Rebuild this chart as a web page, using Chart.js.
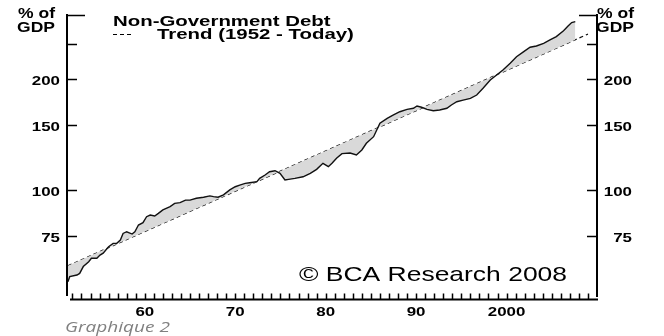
<!DOCTYPE html>
<html>
<head>
<meta charset="utf-8">
<script src="https://cdn.jsdelivr.net/npm/chart.js@4.4.1/dist/chart.umd.min.js"></script>
<style>
  html, body { margin: 0; padding: 0; background: #ffffff; }
  #wrap { width: 664px; height: 336px; position: relative; }
</style>
</head>
<body>
<div id="wrap"><canvas id="c" width="664" height="336"></canvas></div>
<script>
// ---- data ----
const debtYears = [1951.5,1951.7,1952.5,1952.8,1953.2,1953.8,1954.1,1954.7,1955.05,1955.4,1956.0,1956.5,1956.9,1957.3,1957.6,1958.0,1958.6,1958.9,1959.3,1959.8,1960.2,1960.6,1961.1,1961.5,1962.0,1962.8,1963.3,1963.9,1964.5,1965.0,1965.7,1966.5,1967.2,1967.6,1968.1,1968.7,1969.4,1970.0,1970.5,1971.1,1971.6,1972.4,1972.7,1973.3,1973.8,1974.4,1974.95,1975.5,1975.9,1976.6,1977.5,1978.3,1979.0,1979.7,1980.3,1980.7,1981.2,1981.8,1982.7,1983.4,1984.0,1984.5,1985.3,1986.0,1986.8,1987.5,1988.2,1989.0,1989.7,1990.1,1990.6,1991.2,1991.9,1992.6,1993.4,1993.9,1994.5,1995.2,1996.0,1996.7,1997.4,1998.2,1998.9,1999.6,2000.4,2001.1,2001.9,2002.6,2003.3,2004.1,2004.8,2005.5,2006.3,2006.8,2007.2,2007.6];
const debtValues = [56.1,57.9,58.5,59.1,61.7,63.6,65.0,65.0,66.3,67.1,69.9,71.4,71.4,72.9,76.0,76.8,75.7,76.8,80.1,81.3,84.4,85.3,84.8,86.2,88.1,89.9,91.8,92.2,93.7,93.7,94.8,95.4,96.2,95.8,95.4,96.8,99.9,101.9,103.0,104.1,104.5,105.2,107.4,109.7,112.0,112.7,110.9,106.3,106.7,107.4,108.5,110.9,113.7,118.1,115.6,118.1,121.9,125.5,126.0,124.4,128.4,133.9,139.6,151.9,156.7,160.0,163.3,165.8,166.9,169.3,168.0,165.8,164.4,165.1,166.9,170.4,173.9,175.7,177.6,181.4,189.2,199.3,205.8,212.3,221.4,230.8,238.3,244.9,246.9,251.1,256.4,261.8,271.7,279.8,286.0,287.7];
const trendYears = [1951.5, 2009.0];
const trendValues = [62, 266];
const yTickValues = [75, 100, 150, 200, 250, 300];
const yTickLabels = ['75', '100', '150', '200', '', ''];
const xLabelYears = [1960, 1970, 1980, 1990, 2000];
const xLabelTexts = ['60', '70', '80', '90', '2000'];
const xMinorFirst = 1952, xMinorLast = 2009;
const seriesLabel = 'Non-Government Debt';
const trendLabel = 'Trend (1952 - Today)';
const unitLines = ['% of', 'GDP'];
const copyrightText = '\u00A9 BCA Research 2008';
const captionText = 'Graphique 2';

const debtPoints = debtYears.map((x, i) => ({x: x, y: debtValues[i]}));
const trendPoints = trendYears.map((x, i) => ({x: x, y: trendValues[i]}));

function stretchText(ctx, s, x, y, font, align, sx, color) {
  ctx.save();
  ctx.font = font;
  ctx.fillStyle = color || '#000';
  ctx.textAlign = align;
  ctx.textBaseline = 'alphabetic';
  ctx.translate(x, y);
  ctx.scale(sx, 1);
  ctx.fillText(s, 0, 0);
  ctx.restore();
}

const decor = {
  id: 'decor',
  afterDatasetsDraw(chart) {
    const ctx = chart.ctx;
    const xs = chart.scales.x, ys = chart.scales.y;
    const a = chart.chartArea;
    const L = a.left, R = a.right, T = a.top, B = a.bottom;
    const tickFont = 'bold 13px "Liberation Sans", Arial, sans-serif';
    const SX = 1.3;
    const axisY = B - 0.5;
    ctx.save();
    // caption first (grey, behind everything else)
    stretchText(ctx, captionText, 65, 332, 'italic 14px "Open Sans", sans-serif', 'left', 1.36, '#808080');
    ctx.strokeStyle = '#000';
    ctx.lineCap = 'butt';
    // vertical axes
    ctx.lineWidth = 2;
    ctx.beginPath();
    ctx.moveTo(L, T - 1); ctx.lineTo(L, B - 4);
    ctx.moveTo(R, T - 1); ctx.lineTo(R, B - 3);
    // x axis
    ctx.moveTo(L + 3, axisY); ctx.lineTo(R + 1, axisY);
    ctx.stroke();
    // y ticks
    ctx.lineWidth = 1.6;
    yTickValues.forEach((v, i) => {
      const py = Math.round(ys.getPixelForValue(v)) + 0.5;
      const len = (v === 300) ? 18 : 10;
      ctx.beginPath();
      ctx.moveTo(L, py); ctx.lineTo(L + len, py);
      ctx.moveTo(R, py); ctx.lineTo(R - len, py);
      ctx.stroke();
      if (yTickLabels[i]) {
        stretchText(ctx, yTickLabels[i], 60, py + 5, tickFont, 'right', SX);
        stretchText(ctx, yTickLabels[i], 632, py + 5, tickFont, 'right', SX);
      }
    });
    // x minor ticks
    ctx.lineWidth = 1.5;
    ctx.beginPath();
    for (let yr = xMinorFirst; yr <= xMinorLast; yr++) {
      const px = Math.round(xs.getPixelForValue(yr)) + 0.5;
      ctx.moveTo(px, axisY); ctx.lineTo(px, axisY - 6);
    }
    ctx.stroke();
    xLabelYears.forEach((yr, i) => {
      const px = xs.getPixelForValue(yr);
      stretchText(ctx, xLabelTexts[i], px, 316, tickFont, 'center', SX, '#000');
    });
    // unit labels
    const unitFont = 'bold 14px "Liberation Sans", Arial, sans-serif';
    stretchText(ctx, unitLines[0], 55, 18, unitFont, 'right', 1.25);
    stretchText(ctx, unitLines[1], 55, 32, unitFont, 'right', 1.25);
    stretchText(ctx, unitLines[0], 634, 18, unitFont, 'right', 1.25);
    stretchText(ctx, unitLines[1], 634, 32, unitFont, 'right', 1.25);
    // legend
    const legFont = 'bold 15px "Liberation Sans", Arial, sans-serif';
    stretchText(ctx, seriesLabel, 113, 26, legFont, 'left', 1.36);
    stretchText(ctx, trendLabel, 157, 39, legFont, 'left', 1.36);
    ctx.lineWidth = 1;
    ctx.setLineDash([4, 3]);
    ctx.beginPath();
    ctx.moveTo(113, 34.5); ctx.lineTo(134, 34.5);
    ctx.stroke();
    ctx.setLineDash([]);
    // copyright
    stretchText(ctx, copyrightText, 433, 281, '21px "Liberation Sans", Arial, sans-serif', 'center', 1.26);
    ctx.restore();
  }
};

new Chart(document.getElementById('c'), {
  type: 'line',
  data: {
    datasets: [
      {
        label: seriesLabel,
        data: debtPoints,
        borderColor: '#111111',
        borderWidth: 1.4,
        pointRadius: 0,
        tension: 0,
        fill: { target: 1, above: '#d9d9d9', below: '#d9d9d9' },
        backgroundColor: '#d9d9d9'
      },
      {
        label: trendLabel,
        data: trendPoints,
        borderColor: '#111111',
        borderWidth: 1.2,
        borderDash: [4, 3],
        pointRadius: 0,
        tension: 0,
        fill: false
      }
    ]
  },
  options: {
    responsive: false,
    animation: false,
    devicePixelRatio: 1,
    layout: { padding: { left: 67, right: 67, top: 15, bottom: 36 } },
    plugins: { legend: { display: false }, tooltip: { enabled: false } },
    scales: {
      x: { type: 'linear', display: false, min: 1951.4, max: 2010 },
      y: { type: 'logarithmic', display: false, min: 50, max: 300 }
    }
  },
  plugins: [decor]
});
</script>
</body>
</html>
